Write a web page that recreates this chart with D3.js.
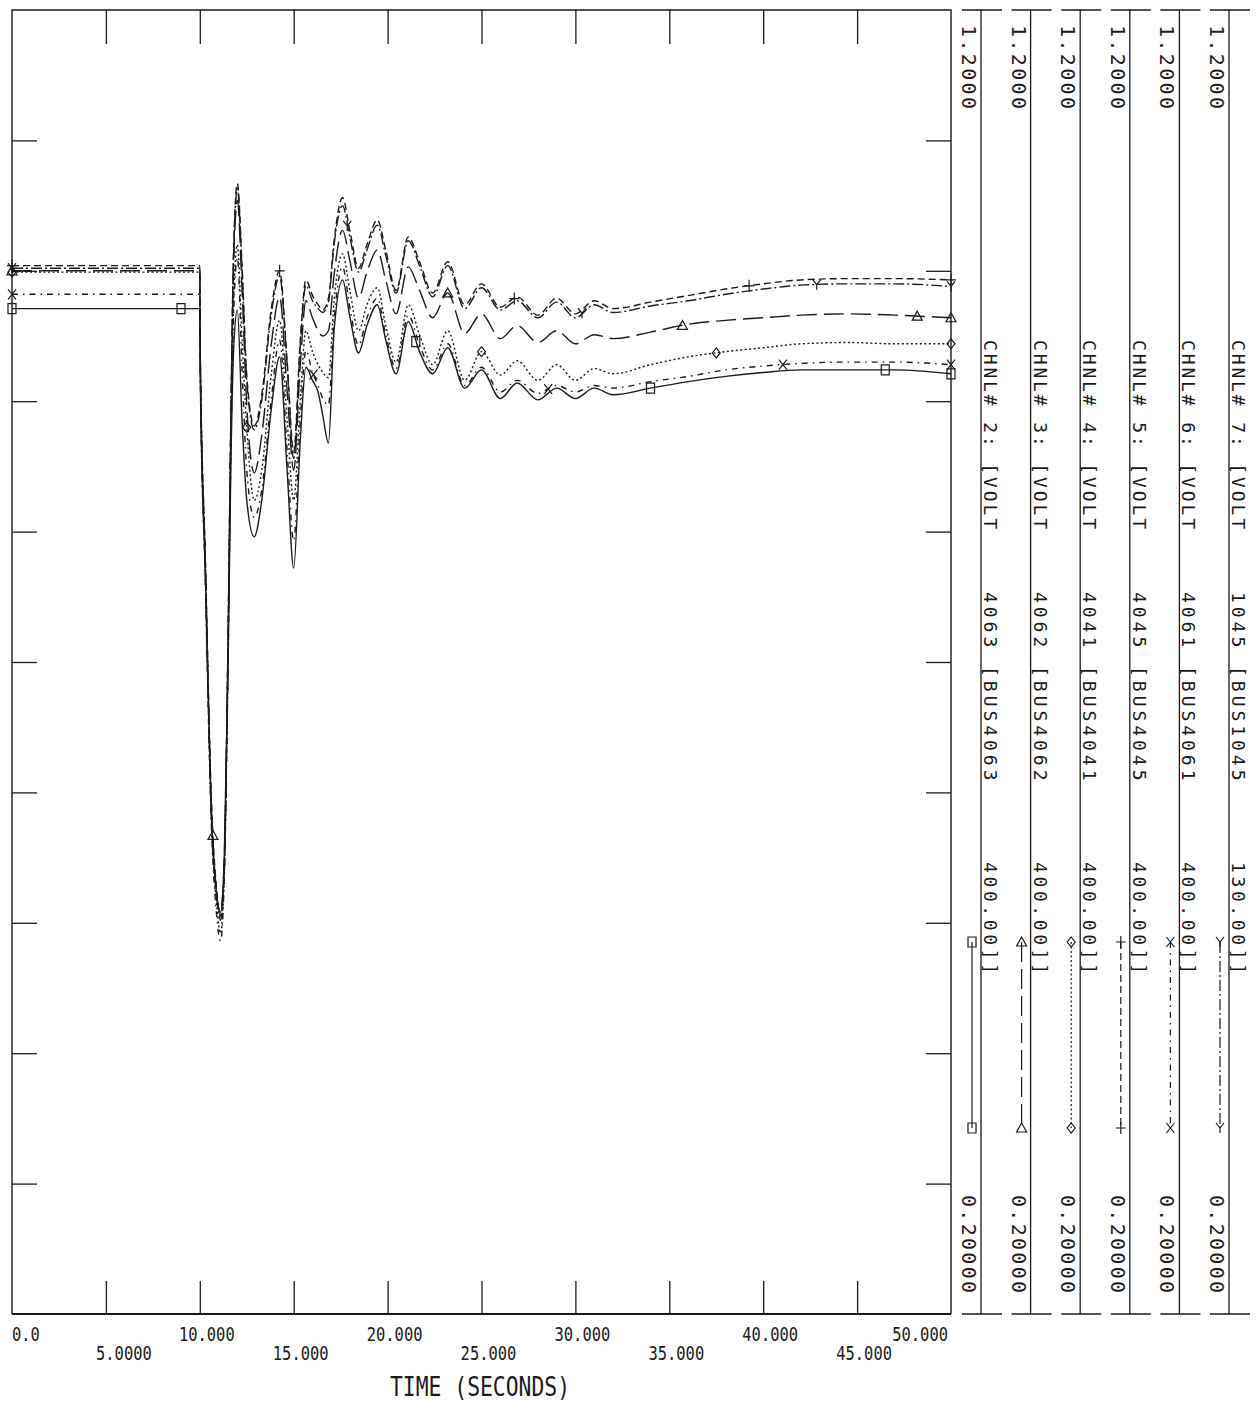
<!DOCTYPE html>
<html lang="en">
<head>
  <meta charset="UTF-8">
  <title>CVOLT channels 2-7</title>
  <style>
    body { margin: 0; background: #fff; }
    svg { display: block; }
    .mono { font-family: "DejaVu Sans Mono", "Liberation Mono", monospace; fill: #1a1a1a; }
  </style>
</head>
<body>
  <div id="chart"></div>

  <script src="https://cdnjs.cloudflare.com/ajax/libs/d3/7.8.5/d3.min.js"></script>
  <script>
    // time axis (seconds) shared by every channel
    const time = [0, 10.0, 10.02, 10.3, 10.6, 10.9, 11.1, 11.3, 11.5, 11.65, 11.8, 12.0, 12.25, 12.5, 12.9, 13.3,
      13.8, 14.25, 14.65, 15.0, 15.35, 15.65, 16.0, 16.3, 16.55, 16.85, 17.15, 17.6, 18.0, 18.45, 18.9, 19.45,
      19.9, 20.45, 21.1, 21.7, 22.4, 23.2, 24.1, 25.0, 26.0, 26.9, 28.0, 29.0, 30.0, 31.0, 32.0, 34, 36, 38,
      40, 42, 44.5, 47, 50];

    // bus voltages (pu)
    const chnl2 = [0.971, 0.971, 0.924, 0.763, 0.590, 0.521, 0.508, 0.548, 0.693, 0.847, 0.939, 0.970, 0.885, 0.824,
      0.796, 0.824, 0.893, 0.934, 0.847, 0.772, 0.870, 0.926, 0.916, 0.907, 0.889, 0.868, 0.954, 0.993, 0.964,
      0.937, 0.958, 0.974, 0.947, 0.921, 0.961, 0.938, 0.921, 0.941, 0.910, 0.924, 0.902, 0.914, 0.901, 0.910,
      0.902, 0.910, 0.905, 0.910, 0.915, 0.919, 0.922, 0.924, 0.924, 0.924, 0.921];
    const chnl3 = [1.000, 1.000, 0.939, 0.770, 0.590, 0.521, 0.508, 0.548, 0.709, 0.878, 1.004, 1.054, 0.985, 0.897,
      0.845, 0.874, 0.943, 0.980, 0.908, 0.847, 0.928, 0.977, 0.964, 0.954, 0.950, 0.954, 0.997, 1.031, 1.007,
      0.979, 0.999, 1.016, 0.993, 0.967, 1.003, 0.985, 0.964, 0.983, 0.952, 0.967, 0.948, 0.958, 0.945, 0.954,
      0.944, 0.951, 0.948, 0.953, 0.959, 0.962, 0.964, 0.966, 0.967, 0.966, 0.964];
    const chnl4 = [0.999, 0.999, 0.938, 0.766, 0.586, 0.513, 0.492, 0.536, 0.701, 0.866, 0.977, 1.020, 0.947, 0.880,
      0.824, 0.847, 0.920, 0.962, 0.885, 0.824, 0.901, 0.954, 0.938, 0.928, 0.922, 0.918, 0.977, 1.013, 0.984,
      0.954, 0.974, 0.987, 0.958, 0.930, 0.974, 0.951, 0.928, 0.954, 0.916, 0.938, 0.920, 0.931, 0.916, 0.928,
      0.916, 0.925, 0.921, 0.928, 0.934, 0.938, 0.941, 0.944, 0.945, 0.944, 0.944];
    const chnl5 = [1.004, 1.004, 0.943, 0.778, 0.601, 0.525, 0.505, 0.540, 0.716, 0.885, 1.016, 1.067, 1.004, 0.920,
      0.881, 0.905, 0.970, 1.000, 0.931, 0.861, 0.947, 0.993, 0.981, 0.974, 0.970, 0.979, 1.023, 1.056, 1.030,
      1.002, 1.020, 1.039, 1.016, 0.985, 1.026, 1.007, 0.983, 1.007, 0.974, 0.990, 0.972, 0.980, 0.966, 0.979,
      0.967, 0.977, 0.971, 0.976, 0.981, 0.986, 0.990, 0.993, 0.994, 0.994, 0.993];
    const chnl6 = [0.982, 0.982, 0.928, 0.759, 0.582, 0.505, 0.486, 0.532, 0.693, 0.858, 0.966, 1.010, 0.924, 0.847,
      0.811, 0.832, 0.901, 0.947, 0.862, 0.793, 0.885, 0.939, 0.922, 0.912, 0.902, 0.897, 0.962, 1.003, 0.971,
      0.943, 0.964, 0.979, 0.951, 0.925, 0.966, 0.943, 0.924, 0.944, 0.912, 0.926, 0.907, 0.916, 0.906, 0.912,
      0.907, 0.912, 0.910, 0.915, 0.919, 0.924, 0.927, 0.929, 0.930, 0.930, 0.928];
    const chnl7 = [1.002, 1.002, 0.943, 0.774, 0.598, 0.521, 0.502, 0.540, 0.713, 0.881, 1.012, 1.063, 1.000, 0.916,
      0.878, 0.901, 0.966, 0.996, 0.928, 0.856, 0.943, 0.989, 0.977, 0.971, 0.968, 0.976, 1.020, 1.050, 1.025,
      0.999, 1.016, 1.035, 1.012, 0.983, 1.023, 1.004, 0.980, 1.004, 0.971, 0.987, 0.970, 0.977, 0.964, 0.976,
      0.964, 0.974, 0.968, 0.973, 0.977, 0.982, 0.986, 0.989, 0.990, 0.990, 0.988];

    const channelIds = ["CHNL# 2: [VOLT", "CHNL# 3: [VOLT", "CHNL# 4: [VOLT", "CHNL# 5: [VOLT", "CHNL# 6: [VOLT", "CHNL# 7: [VOLT"];
    const busNames = ["4063 [BUS4063", "4062 [BUS4062", "4041 [BUS4041", "4045 [BUS4045", "4061 [BUS4061", "1045 [BUS1045"];
    const baseKv = ["400.00]]", "400.00]]", "400.00]]", "400.00]]", "400.00]]", "130.00]]"];
    const scaleMax = "1.2000", scaleMin = "0.20000";

    // first marker time per channel, then one marker every markerStep seconds
    const markerStart = [9.0, 10.7, 12.5, 14.25, 16.05, 17.85];
    const markerStep = 12.5;

    const xTicks = [0, 5, 10, 15, 20, 25, 30, 35, 40, 45, 50];
    const xTickLabels = ["0.0", "5.0000", "10.000", "15.000", "20.000", "25.000", "30.000", "35.000", "40.000", "45.000", "50.000"];
    const yTicks = [0.3, 0.4, 0.5, 0.6, 0.7, 0.8, 0.9, 1.0, 1.1];

    const series = [chnl2, chnl3, chnl4, chnl5, chnl6, chnl7];
    const dashes = [null, "20,7", "2,2.5", "7,4", "6,5,1.5,5", "11,3,2,3"];
    const markerKinds = ["square", "triangle", "diamond", "plus", "cross", "wye"];

    const W = 1257, H = 1406;
    const plot = { left: 12, right: 951, top: 10, bottom: 1314 };

    const x = d3.scaleLinear().domain([0, 50]).range([plot.left, plot.right]);
    const y = d3.scaleLinear().domain([0.2, 1.2]).range([plot.bottom, plot.top]);

    const svg = d3.select("#chart").append("svg")
      .attr("width", W)
      .attr("height", H);

    const ink = "#1a1a1a";

    // frame
    svg.append("path")
      .attr("d", `M${plot.left},${plot.bottom}V${plot.top}H${plot.right}V${plot.bottom}`)
      .attr("fill", "none").attr("stroke", ink).attr("stroke-width", 1.4);
    svg.append("line")
      .attr("x1", plot.left).attr("x2", plot.right)
      .attr("y1", plot.bottom).attr("y2", plot.bottom)
      .attr("stroke", ink).attr("stroke-width", 2.2);

    // inner ticks on all four sides
    function ticks(axis, tx, ty) {
      const a = svg.append("g").attr("transform", `translate(${tx},${ty})`).call(axis);
      a.select(".domain").remove();
      a.selectAll("line").attr("stroke", ink).attr("stroke-width", 1.3);
      a.selectAll("text").remove();
    }
    const inner = xTicks.slice(1, -1);
    ticks(d3.axisRight(y).tickValues(yTicks).tickSize(25), plot.left, 0);
    ticks(d3.axisLeft(y).tickValues(yTicks).tickSize(25), plot.right, 0);
    ticks(d3.axisBottom(x).tickValues(inner).tickSize(34), 0, plot.top);
    ticks(d3.axisTop(x).tickValues(inner).tickSize(33), 0, plot.bottom);

    // x labels, staggered in two rows
    svg.append("g").selectAll("text")
      .data(xTicks)
      .join("text")
      .attr("class", "mono")
      .attr("font-size", 19)
      .attr("x", (t, i) => i === 0 ? plot.left : i === xTicks.length - 1 ? plot.right - 3 : x(t) + (i === 1 ? 18 : 7))
      .attr("y", (t, i) => i % 2 === 0 ? 1341 : 1360)
      .attr("text-anchor", (t, i) => i === 0 ? "start" : i === xTicks.length - 1 ? "end" : "middle")
      .attr("textLength", (t, i) => xTickLabels[i].length * 9.3)
      .attr("lengthAdjust", "spacingAndGlyphs")
      .text((t, i) => xTickLabels[i]);

    svg.append("text")
      .attr("class", "mono")
      .attr("font-size", 26)
      .attr("x", 480).attr("y", 1396)
      .attr("text-anchor", "middle")
      .attr("textLength", 180)
      .attr("lengthAdjust", "spacingAndGlyphs")
      .text("TIME (SECONDS)");

    // markers
    function marker(sel, kind, cx, cy) {
      const shapes = {
        square: "M-4,-5H4V5H-4Z",
        triangle: "M0,-5L5,4H-5Z",
        diamond: "M0,-5L4,0L0,5L-4,0Z",
        plus: "M-5,0H5M0,-6V6",
        cross: "M-4,-5L4,5M4,-5L-4,5",
        wye: "M-4,-5L0,0L4,-5M0,0V5"
      };
      sel.append("path")
        .attr("transform", `translate(${cx},${cy})`)
        .attr("d", shapes[kind])
        .attr("fill", "none")
        .attr("stroke", ink)
        .attr("stroke-width", 1.2);
    }

    function valueAt(vals, t) {
      const i = Math.max(1, Math.min(time.length - 1, d3.bisectLeft(time, t)));
      const t0 = time[i - 1], t1 = time[i];
      return vals[i - 1] + (vals[i] - vals[i - 1]) * (t - t0) / (t1 - t0);
    }

    // channel traces
    const line = d3.line()
      .x(d => x(d[0]))
      .y(d => y(d[1]))
      .curve(d3.curveMonotoneX);

    const traces = svg.append("g");
    series.forEach((vals, k) => {
      traces.append("path")
        .datum(time.map((t, i) => [t, vals[i]]))
        .attr("fill", "none")
        .attr("stroke", ink)
        .attr("stroke-width", 1.4)
        .attr("stroke-dasharray", dashes[k])
        .attr("d", line);

      const mt = [0];
      for (let t = markerStart[k]; t < 49.9; t += markerStep) mt.push(t);
      mt.push(50);
      mt.forEach(t => marker(traces, markerKinds[k], x(t), y(valueAt(vals, t))));
    });

    // right hand legend panels, one per channel
    const panelX = d3.scaleLinear().domain([0, 5]).range([981, 1229]);
    const legend = svg.append("g");

    // vertical text, read top to bottom, fixed character pitch
    function vtext(str, x0, y0, size, pitch) {
      legend.append("text")
        .attr("class", "mono")
        .attr("font-size", size)
        .attr("transform", `translate(${x0},${y0}) rotate(90)`)
        .attr("textLength", str.length * pitch)
        .attr("lengthAdjust", "spacing")
        .text(str);
    }

    series.forEach((vals, k) => {
      const px = panelX(k);
      legend.append("line")
        .attr("x1", px).attr("x2", px).attr("y1", plot.top).attr("y2", plot.bottom)
        .attr("stroke", ink).attr("stroke-width", 1.3);
      [plot.top, plot.bottom].forEach(yy => {
        legend.append("line")
          .attr("x1", px - 19).attr("x2", px + 21).attr("y1", yy).attr("y2", yy)
          .attr("stroke", ink).attr("stroke-width", 1.4);
      });

      vtext(scaleMax, px - 19, 25, 20, 14);
      vtext(scaleMin, px - 19, 1195, 20, 14);
      vtext(channelIds[k], px + 3, 340, 18, 13.5);
      vtext(busNames[k], px + 3, 592, 18, 14.5);
      vtext(baseKv[k], px + 3, 862, 18, 14);

      // line style sample
      legend.append("line")
        .attr("x1", px - 9).attr("x2", px - 9).attr("y1", 942).attr("y2", 1128)
        .attr("stroke", ink).attr("stroke-width", 1.2)
        .attr("stroke-dasharray", dashes[k]);
      marker(legend, markerKinds[k], px - 9, 942);
      marker(legend, markerKinds[k], px - 9, 1128);
    });
  </script>
</body>
</html>
